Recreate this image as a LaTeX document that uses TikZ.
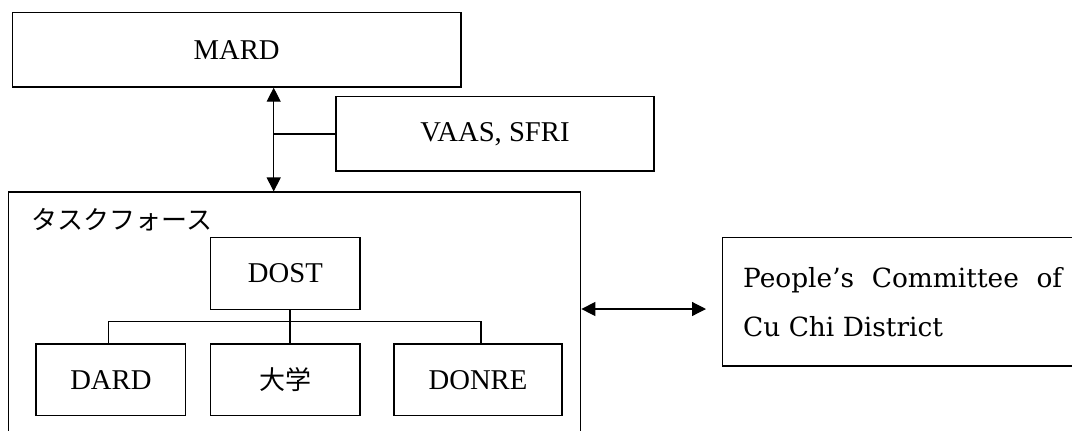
\documentclass[tikz,border=0pt]{standalone}
\usepackage{fontspec}
\setmainfont{Liberation Serif}
\newfontfamily\pcfont{DejaVu Serif}
\newfontfamily\cjk{Noto Sans CJK JP}
\usetikzlibrary{arrows.meta}
\begin{document}
\begin{tikzpicture}[x=0.75pt,y=-0.75pt,
  box/.style={draw=black,line width=1pt,inner sep=0pt,fill=none,
    font=\fontsize{21.5pt}{26pt}\selectfont},
  link/.style={draw=black,line width=0.9pt},
  dbl/.style={link,{Triangle[length=10.5pt,width=10.5pt]}-{Triangle[length=10.5pt,width=10.5pt]}}]
\useasboundingbox[fill=white] (0,0) rectangle (1072,430);
% boxes
\node[box,minimum width=336.5pt,minimum height=56pt] (mard) at (236.7,49.7) {MARD};
\node[box,minimum width=238.5pt,minimum height=55.7pt] (vaas) at (495,133.9) {VAAS, SFRI};
\node[box,minimum width=429pt,minimum height=208.3pt] (tf) at (294.7,331) {};
\node[anchor=west,inner sep=0pt,font=\cjk\fontsize{19.5pt}{24pt}\selectfont] (tflabel) at (31.6,220) {タスクフォース};
\node[box,minimum width=112pt,minimum height=54pt] (dost) at (285.4,273.3) {DOST};
\node[box,minimum width=112.3pt,minimum height=53.6pt] (dard) at (110.9,379.8) {DARD};
\node[box,minimum width=112pt,minimum height=53.6pt,font=\cjk\fontsize{19.5pt}{24pt}\selectfont] (daigaku) at (285.4,379.8) {大学};
\node[box,minimum width=126pt,minimum height=53.6pt] (donre) at (478,379.8) {DONRE};
\node[box,minimum width=270.5pt,minimum height=96.5pt,align=left,
  font=\pcfont\fontsize{19.8pt}{36.8pt}\selectfont] (pc) at (902.7,301.7)
  {\makebox[239.25pt][s]{People’s Committee of}\\Cu Chi District};
% connector coordinates
\coordinate (jx) at (273.7,0);
\coordinate (ay) at (0,309);
\coordinate (ae) at (706,309);
\coordinate (hl) at (108.5,321.7);
\coordinate (hm) at (290,321.7);
\coordinate (hr) at (481,321.7);
% connectors
\draw[dbl] (mard.south -| jx) -- (tf.north -| jx);
\draw[link] (vaas.west) -- (vaas.west -| jx);
\draw[dbl] (tf.east |- ay) -- (ae);
\draw[link] (dost.south -| hm) -- (daigaku.north -| hm);
\draw[link] (dard.north -| hl) -- (hl) -- (hr) -- (donre.north -| hr);
\end{tikzpicture}
\end{document}
